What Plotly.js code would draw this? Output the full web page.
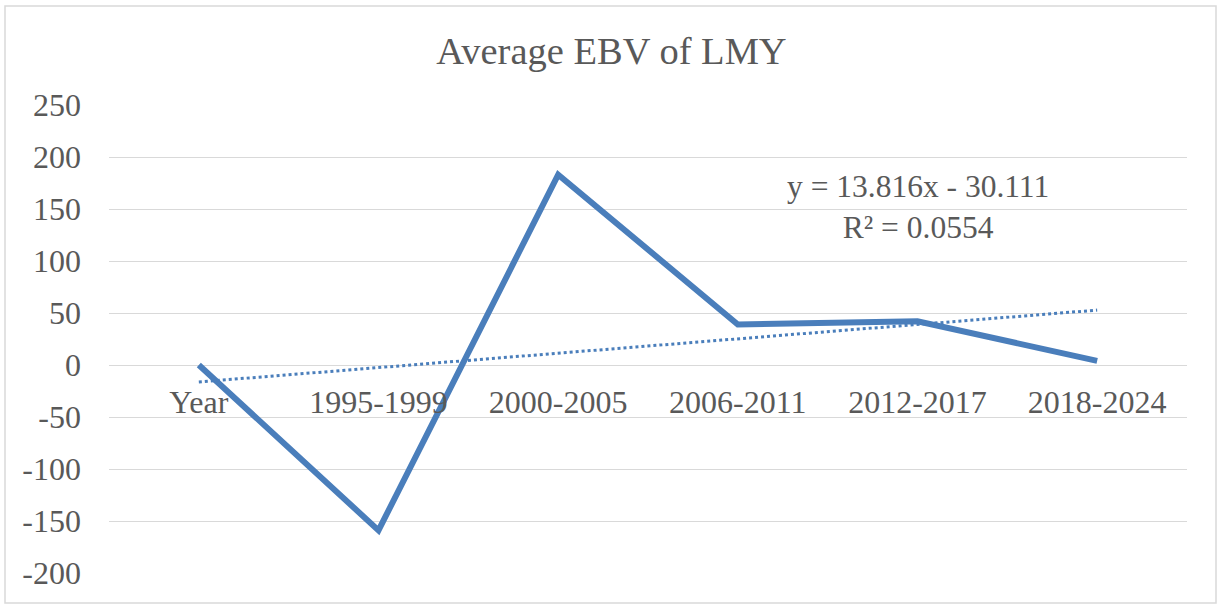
<!DOCTYPE html>
<html>
<head>
<meta charset="utf-8">
<script src="https://cdn.plot.ly/plotly-3.0.1.min.js"></script>
<style>html,body{margin:0;padding:0;background:#fff;}#chart{width:1223px;height:604px;}</style>
</head>
<body>
<div id="chart"></div>
<script>
const categories = ["Year", "1995-1999", "2000-2005", "2006-2011", "2012-2017", "2018-2024"];
const ebvValues = [0, -159, 183, 39, 42, 4];
const trendValues = [-16.3, -2.5, 11.3, 25.2, 39.0, 52.8];
const yTicks = [-200, -150, -100, -50, 0, 50, 100, 150, 200, 250];
const trendLabel = "y = 13.816x - 30.111<br>R² = 0.0554";

const font = "Liberation Serif";
const textColor = "#595959";
const blue = "#4a7ebb";

const traces = [
  {
    x: categories, y: ebvValues, type: "scatter", mode: "lines",
    line: {color: blue, width: 6}, hoverinfo: "x+y", showlegend: false
  },
  {
    x: categories, y: trendValues, type: "scatter", mode: "lines",
    line: {color: blue, width: 3, dash: "dot"}, hoverinfo: "x+y", showlegend: false
  }
];

const layout = {
  width: 1223, height: 604,
  margin: {l: 109, r: 36, t: 105, b: 31},
  paper_bgcolor: "#fff", plot_bgcolor: "#fff",
  font: {family: font, color: textColor, size: 32},
  title: {text: "Average EBV of LMY", font: {family: font, size: 38.5, color: textColor}, x: 0.5, xanchor: "center", y: 0.917, yanchor: "middle"},
  xaxis: {
    type: "category", range: [-0.5, 5.5], showgrid: false, zeroline: false, showline: false,
    anchor: "free", position: 200 / 450,
    ticks: "", ticklabelstandoff: 15,
    tickfont: {family: font, size: 32, color: textColor}
  },
  yaxis: {
    range: [-200, 250], tickvals: yTicks, ticktext: yTicks.map(String),
    showgrid: true, gridcolor: "#d9d9d9", gridwidth: 1,
    zeroline: true, zerolinecolor: "#d9d9d9", zerolinewidth: 1,
    showline: false, ticks: "", ticklabelstandoff: 27,
    tickfont: {family: font, size: 32, color: textColor}
  },
  annotations: [{
    xref: "x", yref: "y", x: "2012-2017", y: 152, text: trendLabel,
    showarrow: false, align: "center", xanchor: "center", yanchor: "middle",
    font: {family: font, size: 31.5, color: textColor}
  }],
  shapes: [{
    type: "rect", xref: "paper", yref: "paper",
    x0: (5 - 109) / 1078, x1: (1216 - 109) / 1078,
    y0: (573 - 603) / 468, y1: (573 - 6) / 468,
    line: {color: "#d9d9d9", width: 1.5}, fillcolor: "rgba(0,0,0,0)", layer: "below"
  }]
};

Plotly.newPlot("chart", traces, layout, {displayModeBar: false, staticPlot: true});
</script>
</body>
</html>
